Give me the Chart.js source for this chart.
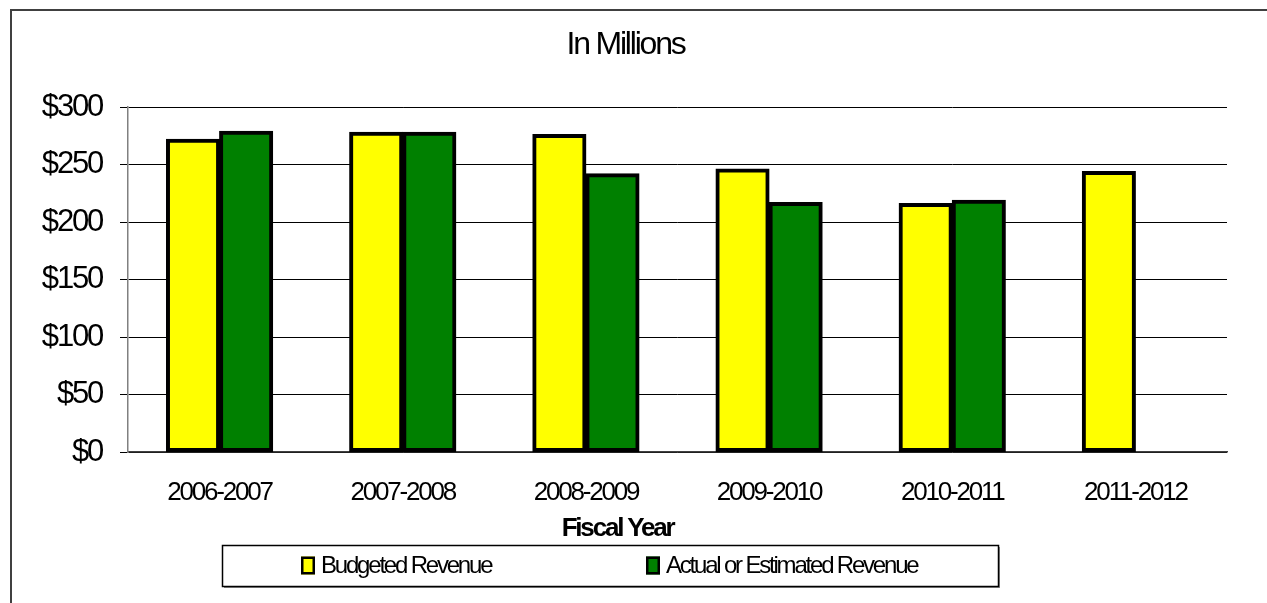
<!DOCTYPE html>
<html>
<head>
<meta charset="utf-8">
<title>Revenue — In Millions</title>
<script src="https://cdn.jsdelivr.net/npm/chart.js@4.4.1/dist/chart.umd.min.js"></script>
<style>
  html, body { margin: 0; padding: 0; background: #ffffff; }
  #wrap { position: relative; width: 1267px; height: 603px; }
</style>
</head>
<body>
<div id="wrap"><canvas id="revenueChart" width="1267" height="603"></canvas></div>
<script>
// Fiscal years and revenue (in millions of dollars)
const fiscalYears = ['2006-2007', '2007-2008', '2008-2009', '2009-2010', '2010-2011', '2011-2012'];
const budgetedRevenue = [272, 278, 276, 246, 216, 244];
const actualRevenue = [279, 278, 242, 217, 219, null];
const yTickValues = [0, 50, 100, 150, 200, 250, 300];

const seriesNames = ['Budgeted Revenue', 'Actual or Estimated Revenue'];
const seriesColors = ['#ffff00', '#008000'];
const chartTitle = 'In Millions';
const xAxisTitle = 'Fiscal Year';

// Arial-style face, tightly tracked
const FAMILY = '"Liberation Sans", Arial, sans-serif';
const TRACKING = '-2.2px';

const trackingPlugin = {
  id: 'tracking',
  beforeLayout(chart) { chart.ctx.letterSpacing = TRACKING; },
  beforeDraw(chart) { chart.ctx.letterSpacing = TRACKING; }
};

// Outer frame of the chart object (top and left edges are visible)
const framePlugin = {
  id: 'frame',
  beforeDraw(chart) {
    const ctx = chart.ctx;
    ctx.save();
    ctx.strokeStyle = '#404040';
    ctx.lineWidth = 2;
    ctx.strokeRect(11, 10, chart.width + 20, chart.height + 20);
    ctx.restore();
  }
};

// Heading above the plot and the category axis title below the labels
const headingPlugin = {
  id: 'heading',
  afterDraw(chart) {
    const ctx = chart.ctx;
    const area = chart.chartArea;
    ctx.save();
    ctx.letterSpacing = TRACKING;
    ctx.fillStyle = '#000000';
    ctx.textAlign = 'center';
    ctx.textBaseline = 'middle';
    ctx.font = '32px ' + FAMILY;
    ctx.fillText(chartTitle, chart.width / 2 - 8, 45);
    ctx.font = 'bold 26px ' + FAMILY;
    ctx.fillText(xAxisTitle, chart.width / 2 - 16, area.bottom + 77);
    ctx.restore();
  }
};

// Boxed legend below the axis title
const boxedLegend = {
  id: 'boxedLegend',
  afterDraw(chart) {
    const ctx = chart.ctx;
    const area = chart.chartArea;
    const left = area.left + 94;
    const top = area.bottom + 93;
    const w = 776, h = 41;
    ctx.save();
    ctx.letterSpacing = TRACKING;
    ctx.fillStyle = '#8c8c8c';
    ctx.fillRect(left + 2, top + 2, w, h);
    ctx.fillStyle = '#ffffff';
    ctx.fillRect(left, top, w, h);
    ctx.strokeStyle = '#000000';
    ctx.lineWidth = 1.5;
    ctx.strokeRect(left + 0.5, top + 0.5, w, h);

    const itemX = [left + 79, left + 424];
    const cy = top + h / 2;
    ctx.font = '24px ' + FAMILY;
    ctx.textBaseline = 'middle';
    ctx.textAlign = 'left';
    chart.data.datasets.forEach((ds, i) => {
      const x = itemX[i];
      ctx.fillStyle = ds.backgroundColor;
      ctx.fillRect(x, cy - 9, 14, 18);
      ctx.strokeStyle = '#000000';
      ctx.lineWidth = 2.5;
      ctx.strokeRect(x + 1.25, cy - 9 + 1.25, 11.5, 15.5);
      ctx.fillStyle = '#000000';
      ctx.fillText(ds.label, x + 20, cy + 1);
    });
    ctx.restore();
  }
};

const ctx = document.getElementById('revenueChart').getContext('2d');
new Chart(ctx, {
  type: 'bar',
  data: {
    labels: fiscalYears,
    datasets: [
      {
        label: seriesNames[0],
        data: budgetedRevenue,
        backgroundColor: seriesColors[0],
        borderColor: '#000000',
        borderWidth: 4,
        borderSkipped: false,
        inflateAmount: 0.5
      },
      {
        label: seriesNames[1],
        data: actualRevenue,
        backgroundColor: seriesColors[1],
        borderColor: '#000000',
        borderWidth: 4,
        borderSkipped: false,
        inflateAmount: 0.5
      }
    ]
  },
  options: {
    responsive: false,
    animation: false,
    devicePixelRatio: 1,
    categoryPercentage: 0.58,
    barPercentage: 1.0,
    layout: { padding: { left: 0, right: 40, top: 107, bottom: 56 } },
    plugins: {
      legend: { display: false },
      tooltip: { enabled: false },
      title: { display: false }
    },
    scales: {
      x: {
        grid: { display: false },
        border: { display: true, color: '#404040', width: 1.5 },
        ticks: {
          color: '#000000',
          font: { family: FAMILY, size: 26 },
          padding: 17,
          maxRotation: 0,
          autoSkip: false
        },
        title: { display: false },
        afterFit(scale) { scale.height = 95; }
      },
      y: {
        min: 0,
        max: 300,
        afterBuildTicks(scale) { scale.ticks = yTickValues.map(v => ({ value: v })); },
        grid: { color: '#000000', lineWidth: 1, drawTicks: true, tickLength: 8, tickColor: '#000000' },
        border: { display: true, color: '#808080', width: 1.5 },
        ticks: {
          color: '#000000',
          font: { family: FAMILY, size: 31 },
          padding: 18,
          callback: v => '$' + v
        },
        afterFit(scale) { scale.width = 128; }
      }
    }
  },
  plugins: [trackingPlugin, framePlugin, headingPlugin, boxedLegend]
});
</script>
</body>
</html>
